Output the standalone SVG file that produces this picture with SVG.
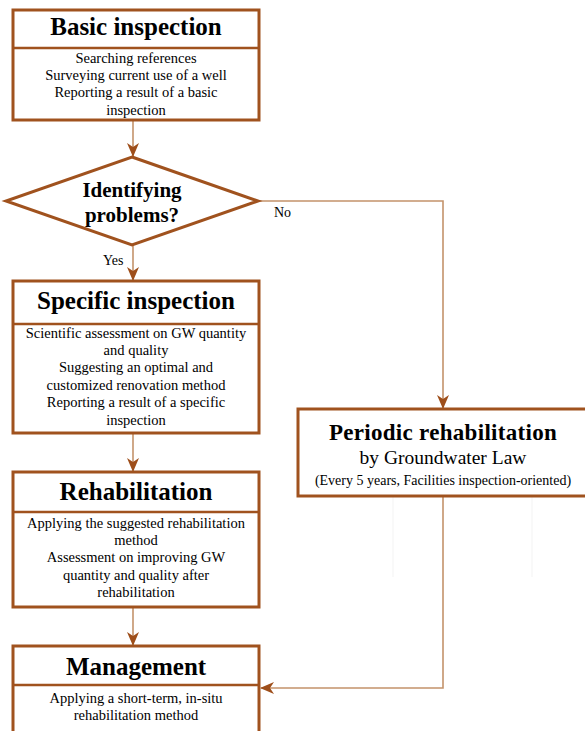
<svg xmlns="http://www.w3.org/2000/svg" width="585" height="731" viewBox="0 0 585 731">
<style>
.box{fill:#fff;stroke:#A0521E;stroke-width:3}
.div{stroke:#A0521E;stroke-width:2.5}
.t{font-family:"Liberation Serif",serif;font-weight:bold;font-size:25px;fill:#000;text-anchor:middle}
.b{font-family:"Liberation Serif",serif;font-size:14.5px;fill:#000;text-anchor:middle}
.c{fill:none;stroke:#C4936B;stroke-width:1.6}
.lbl{font-family:"Liberation Serif",serif;font-size:14px;fill:#000}
</style>
<defs>
<marker id="ah" viewBox="0 0 14 12" refX="13" refY="6" markerWidth="14" markerHeight="12" markerUnits="userSpaceOnUse" orient="auto">
<path d="M0,0 L14,6 L0,12 L4,6 Z" fill="#9E4E1A"/>
</marker>
</defs>
<rect width="585" height="731" fill="#fff"/>
<g id="faint">
<line x1="393" y1="497" x2="393" y2="577" stroke="#f3f3f3" stroke-width="1"/>
<line x1="532" y1="497" x2="532" y2="577" stroke="#f3f3f3" stroke-width="1"/>
</g>
<g id="connectors">
<line class="c" x1="133" y1="121" x2="133" y2="156" marker-end="url(#ah)"/>
<line class="c" x1="133" y1="245" x2="133" y2="280" marker-end="url(#ah)"/>
<line class="c" x1="133" y1="434" x2="133" y2="471" marker-end="url(#ah)"/>
<line class="c" x1="133" y1="608" x2="133" y2="645" marker-end="url(#ah)"/>
<polyline class="c" points="258,201 443,201 443,408" marker-end="url(#ah)"/>
<polyline class="c" points="443,497 443,688 261,688" marker-end="url(#ah)"/>
<text class="lbl" x="103" y="265">Yes</text>
<text class="lbl" x="274" y="217">No</text>
</g>
<g id="basic">
<rect class="box" x="13" y="10" width="246" height="110"/>
<line class="div" x1="13" y1="48" x2="259" y2="48"/>
<text class="t" x="136" y="35">Basic inspection</text>
<text class="b" x="136" y="63">Searching references</text>
<text class="b" x="136" y="80">Surveying current use of a well</text>
<text class="b" x="136" y="97">Reporting a result of a basic</text>
<text class="b" x="136" y="115">inspection</text>
</g>
<g id="decision">
<polygon points="132,157 258,201 132,245 6,201" fill="#fff" stroke="#A0521E" stroke-width="3" stroke-linejoin="miter"/>
<text class="t" x="132" y="197" style="font-size:21px">Identifying</text>
<text class="t" x="132" y="222" style="font-size:21px">problems?</text>
</g>
<g id="specific">
<rect class="box" x="13" y="281" width="246" height="152"/>
<line class="div" x1="13" y1="324" x2="259" y2="324"/>
<text class="t" x="136" y="309">Specific inspection</text>
<text class="b" x="136" y="338">Scientific assessment  on GW quantity</text>
<text class="b" x="136" y="355">and quality</text>
<text class="b" x="136" y="372">Suggesting an optimal and</text>
<text class="b" x="136" y="390">customized renovation method</text>
<text class="b" x="136" y="407">Reporting a result of a specific</text>
<text class="b" x="136" y="425">inspection</text>
</g>
<g id="rehab">
<rect class="box" x="13" y="472" width="246" height="135"/>
<line class="div" x1="13" y1="512" x2="259" y2="512"/>
<text class="t" x="136" y="500">Rehabilitation</text>
<text class="b" x="136" y="528">Applying the suggested rehabilitation</text>
<text class="b" x="136" y="545">method</text>
<text class="b" x="136" y="562">Assessment on improving GW</text>
<text class="b" x="136" y="580">quantity and quality after</text>
<text class="b" x="136" y="597">rehabilitation</text>
</g>
<g id="management">
<rect class="box" x="13" y="646" width="246" height="100"/>
<line class="div" x1="13" y1="685" x2="259" y2="685"/>
<text class="t" x="136" y="675">Management</text>
<text class="b" x="136" y="703">Applying a short-term, in-situ</text>
<text class="b" x="136" y="720">rehabilitation method</text>
</g>
<g id="periodic">
<rect class="box" x="298" y="409" width="295" height="87"/>
<text class="t" x="443" y="440" style="font-size:23px;letter-spacing:0.3px">Periodic rehabilitation</text>
<text class="b" x="443" y="464" style="font-size:19.5px">by Groundwater Law</text>
<text class="b" x="443" y="485" style="font-size:14px">(Every 5 years, Facilities inspection-oriented)</text>
</g>
</svg>
